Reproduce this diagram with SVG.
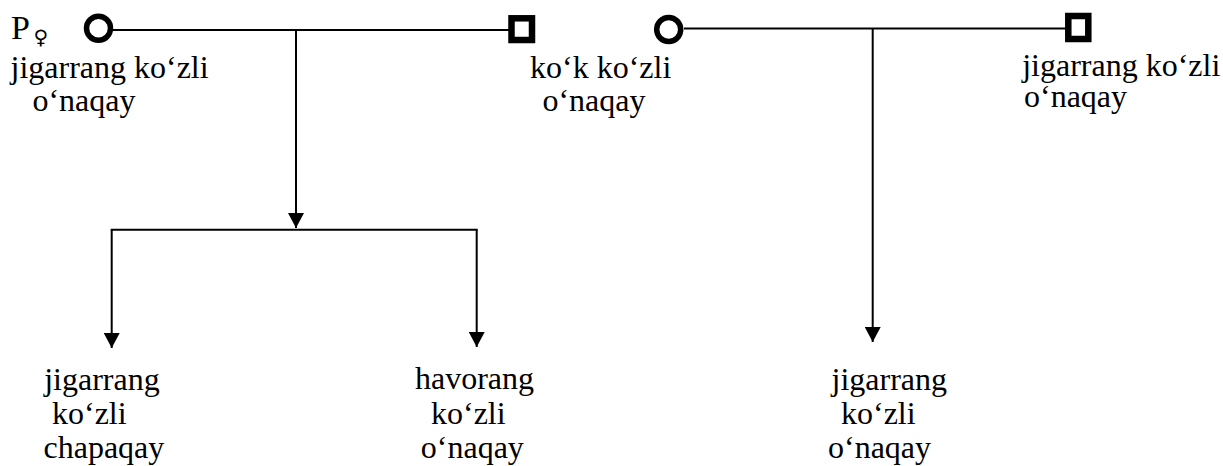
<svg xmlns="http://www.w3.org/2000/svg" width="1223" height="466" viewBox="0 0 1223 466">
<style>
.ln{stroke:#000;stroke-width:2;fill:none}
.fem{fill:none;stroke:#000;stroke-width:5.5}
.mal{fill:none;stroke:#000;stroke-width:6.5}
</style>
<defs>
<marker id="ah" markerWidth="16" markerHeight="16" refX="15" refY="8" orient="auto" markerUnits="userSpaceOnUse">
<path d="M0,0 L15,8 L0,16 Z" fill="#000"/>
</marker>
</defs>
<rect width="1223" height="466" fill="#fff"/>
<g id="connectors">
<line class="ln" x1="113" y1="30" x2="509" y2="30"/>
<line class="ln" x1="684" y1="28.5" x2="1066" y2="28.5"/>
<line class="ln" x1="296" y1="30" x2="296" y2="228" marker-end="url(#ah)"/>
<line class="ln" x1="110.7" y1="229.7" x2="477.7" y2="229.7"/>
<line class="ln" x1="111.7" y1="229.7" x2="111.7" y2="348" marker-end="url(#ah)"/>
<line class="ln" x1="476.7" y1="229.7" x2="476.7" y2="347" marker-end="url(#ah)"/>
<line class="ln" x1="872.7" y1="28.5" x2="872.7" y2="342" marker-end="url(#ah)"/>
</g>
<g font-family="Liberation Serif" font-size="32" fill="#000">
<g id="parent1">
<text x="11" y="39.3" font-size="34">P</text>
<text x="33.5" y="44" font-family="DejaVu Sans" font-size="20">♀</text>
<circle class="fem" cx="98.5" cy="28.3" r="12"/>
<text x="10.5" y="78.3">jigarrang ko‘zli</text>
<text x="32.4" y="110.5">o‘naqay</text>
</g>
<g id="parent2">
<rect class="mal" x="511.5" y="18.3" width="20.5" height="21.7"/>
<text x="530" y="77.8">ko‘k ko‘zli</text>
<text x="542.4" y="111">o‘naqay</text>
</g>
<g id="parent3">
<circle class="fem" cx="668.7" cy="29.5" r="12"/>
</g>
<g id="parent4">
<rect class="mal" x="1068.3" y="16" width="20" height="23"/>
<text x="1022.2" y="76">jigarrang ko‘zli</text>
<text x="1024" y="107.3">o‘naqay</text>
</g>
<g id="child1">
<text x="44.2" y="390">jigarrang</text>
<text x="52" y="424">ko‘zli</text>
<text x="43.5" y="458">chapaqay</text>
</g>
<g id="child2">
<text x="415" y="388.5">havorang</text>
<text x="431" y="424">ko‘zli</text>
<text x="420.8" y="458">o‘naqay</text>
</g>
<g id="child3">
<text x="831.5" y="390">jigarrang</text>
<text x="841" y="424">ko‘zli</text>
<text x="828" y="458">o‘naqay</text>
</g>
</g>
</svg>
